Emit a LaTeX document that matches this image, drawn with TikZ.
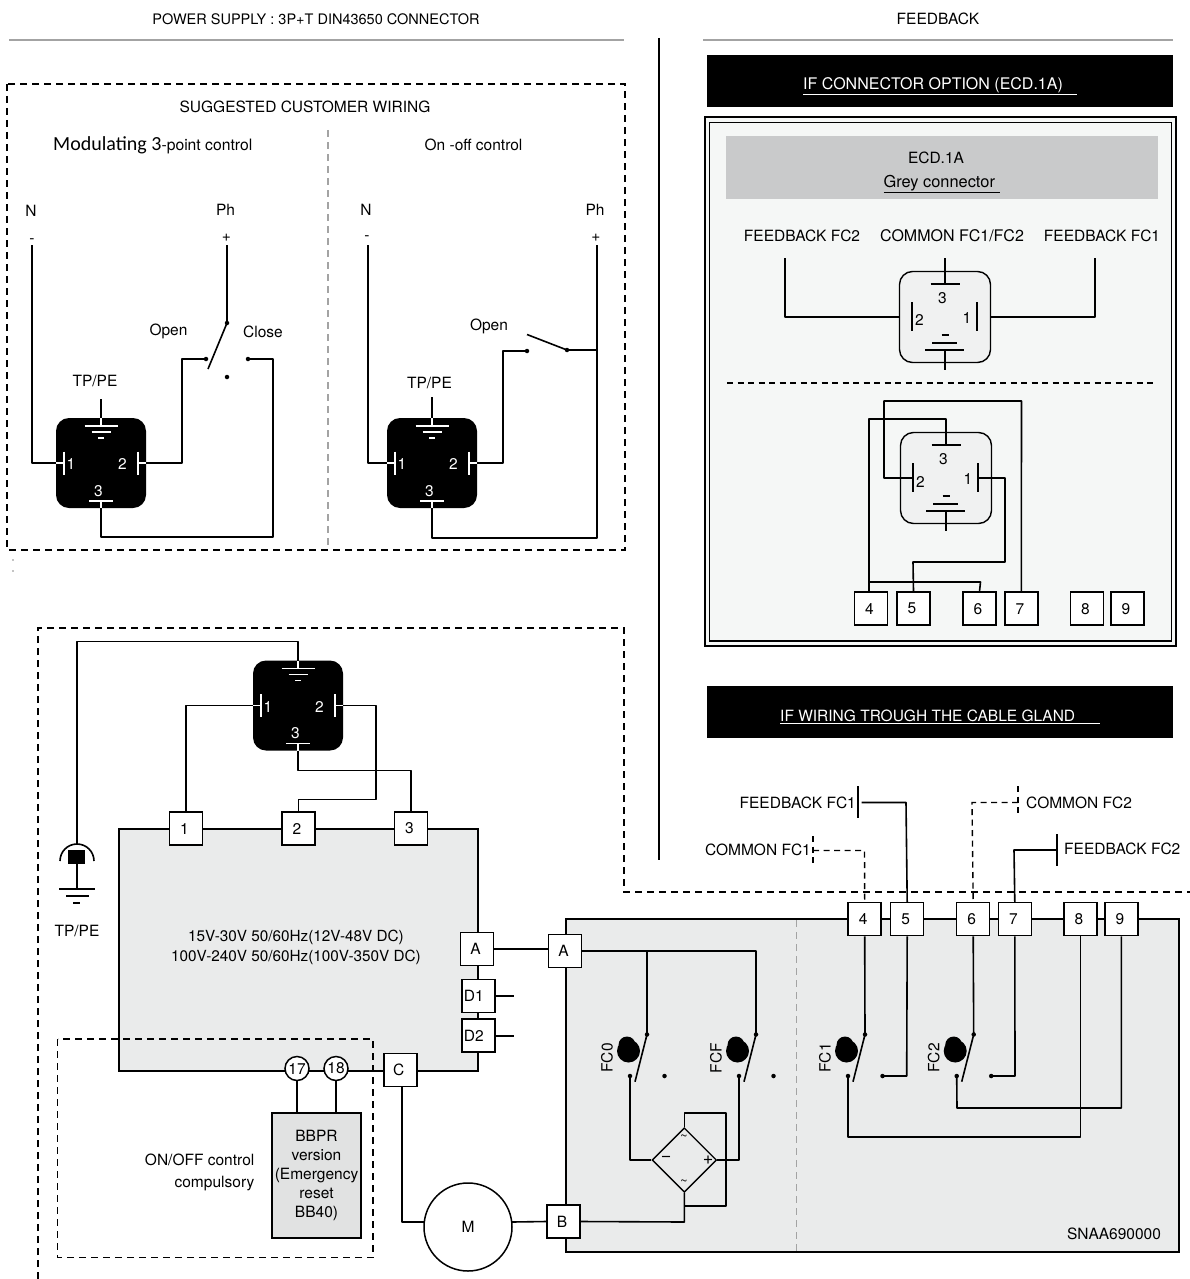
\documentclass[tikz,border=0pt]{standalone}
\usepackage{fontspec}
\setmainfont{TeX Gyre Heros}
\newfontfamily\calfont{Carlito}
\usetikzlibrary{shapes.geometric,calc}
\definecolor{panelgrey}{HTML}{EAEBEB}
\definecolor{rulegrey}{HTML}{A3A3A3}
\definecolor{headgrey}{HTML}{C9CACB}
\definecolor{paleframe}{HTML}{F5F7F6}
\definecolor{bbgrey}{HTML}{E1E2E2}
\tikzset{
 wire/.style={line width=1.6pt,line join=round},
 dashwire/.style={line width=1.4pt,dash pattern=on 6pt off 4.5pt},
 bound/.style={line width=1.5pt,dash pattern=on 7pt off 5pt},
 greydash/.style={rulegrey,line width=1.3pt,dash pattern=on 7pt off 5pt},
 panel/.style={draw,line width=2pt,fill=panelgrey},
 term/.style={draw,line width=1.5pt,fill=white,minimum width=33pt,minimum height=33pt,inner sep=0pt,font=\fsz,execute at end node={\kern3pt}},
 lab/.style={inner sep=0pt,font=\fsz},
 dotn/.style={circle,fill=black,inner sep=0pt,minimum size=4.5pt},
 conbox/.style={rounded corners=13pt,minimum width=90pt,minimum height=90pt,inner sep=0pt},
 circterm/.style={draw,circle,line width=1.5pt,fill=white,minimum size=24pt,inner sep=0pt,font=\fsz},
}
\newcommand\fsz{\fontsize{15.5}{18}\selectfont}
% black connector: name, cx, cy
\newcommand\blackcon[3]{%
 \begin{scope}[shift={(#2,#3)}]
  \node[conbox,fill=black] (#1) at (0,0) {};
  \coordinate (#1L) at (-45,0); \coordinate (#1R) at (45,0);
  \coordinate (#1B) at (0,45); \coordinate (#1T) at (0,-45);
  \begin{scope}[white,line width=1.4pt]
   \draw (0,-45) -- (0,-37) (-16.5,-37) -- (16.5,-37) (-9.5,-31) -- (9.5,-31) (-3,-25) -- (3,-25);
   \draw (-37,-11.5) -- (-37,11.5) (-45,0) -- (-37,0);
   \draw (37,-11.5) -- (37,11.5) (45,0) -- (37,0);
   \draw (-12,38) -- (12,38) (0,38) -- (0,45);
  \end{scope}
  \node[lab,white] (#1n1) at (-30,1.5) {1};
  \node[lab,white] (#1n2) at (21.5,1.5) {2};
  \node[lab,white] (#1n3) at (-2.5,28) {3};
 \end{scope}}
% light connector: name, cx, cy
\newcommand\lightcon[3]{%
 \begin{scope}[shift={(#2,#3)}]
  \node[conbox,draw,line width=1.4pt,fill=panelgrey!70!white,minimum width=91pt,minimum height=91pt] (#1) at (0,0) {};
  \coordinate (#1T) at (0,-33); \coordinate (#1L) at (-33,0);
  \coordinate (#1R) at (32,0); \coordinate (#1B) at (0,33);
  \begin{scope}[line width=1.4pt]
   \draw (-14.5,-33) -- (14.5,-33);
   \draw (-33,-15) -- (-33,14) (32,-15) -- (32,14);
   \draw (-3.5,18) -- (3.5,18) (-13,26) -- (12,26) (-20,33) -- (19,33) (0,33) -- (0,53);
  \end{scope}
  \node[lab] (#1n3) at (-2.5,-19) {3};
  \node[lab] (#1n2) at (-25.5,3.5) {2};
  \node[lab] (#1n1) at (22,1.5) {1};
 \end{scope}}
% cam switch: name, x of the upper contact
\newcommand\camswitch[3]{%
 \node[dotn] (#1t) at (#2,1034.5) {};
 \node[dotn] (#1a) at (#2-17,1076) {};
 \node[dotn] (#1b) at (#2+17.5,1076) {};
 \draw[wire] (#1t.center) -- (#2-12,1081.7);
 \fill (#2-18.5,1051) circle (11.5pt) (#2-20,1045) circle (8.5pt);
 \node[lab,rotate=90] (#1lab) at (#2-40,1058) {#3};}
\begin{document}
\begin{tikzpicture}[x=1pt,y=-1pt]
\useasboundingbox (0,0) rectangle (1190,1279);

% headings
\node[lab,font=\fontsize{14.5}{17}\selectfont] (hpower) at (316,19) {POWER SUPPLY : 3P+T DIN43650 CONNECTOR};
\node[lab] (hfeed) at (938,19) {FEEDBACK};
\draw[rulegrey,line width=2.6pt] (9,40) -- (624,40) (703,40) -- (1173,40);
\draw[line width=1.5pt] (659,38) -- (659,860);

% upper wiring box
\draw[bound] (7,84) rectangle (625,550);
\draw[greydash] (328,130) -- (328,548);
\fill (13,560) circle (.6pt) (13,571) circle (.6pt);
\node[lab] (hsugg) at (305,107) {SUGGESTED CUSTOMER WIRING};
\node[lab,anchor=west,font=\fontsize{15.7}{17}\selectfont] (hmod) at (53,145) {{\calfont\fontsize{20}{20}\selectfont Modulating 3}-point control};
\node[lab] (honoff) at (473.5,145) {On -off control};

% modulating connector
\blackcon{pa}{101}{463}
\node[lab] (nA) at (31,211) {N};
\node[lab] (mA) at (32,241) {-};
\node[lab] (pA) at (225.5,210) {Ph};
\node[lab] (plA) at (226.5,238) {+};
\node[lab] (tpA) at (95,381) {TP/PE};
\node[lab] (opA) at (168.5,331) {Open};
\node[lab] (clA) at (263,332) {Close};
\coordinate (nAe) at (32,245);
\coordinate (pAe) at (227,245);
\node[dotn] (swA) at (227,323) {};
\node[dotn] (swB) at (206,359) {};
\node[dotn] (swC) at (248,359) {};
\node[dotn] (swD) at (227,377) {};
\draw[wire] (nAe) |- (paL);
\draw[wire] (pAe) -- (swA.center) -- (208,369);
\draw[wire] (swB.center) -- (182,359) |- (paR);
\draw[wire] (swC.center) -- (273,359) -- (273,537) -| (paB);
\draw[wire] (paT) -- (101,399);

% on-off connector
\blackcon{pb}{432}{463}
\node[lab] (nB) at (366,210) {N};
\node[lab] (mB) at (367,238) {-};
\node[lab] (pB) at (595,210) {Ph};
\node[lab] (plB) at (596,238) {+};
\node[lab] (tpB) at (429.5,383) {TP/PE};
\node[lab] (opB) at (489,326) {Open};
\coordinate (nBe) at (368,245);
\coordinate (pBe) at (597,245);
\node[dotn] (sbA) at (567,350) {};
\node[dotn] (sbB) at (527,351) {};
\draw[wire] (nBe) |- (pbL);
\draw[wire] (pBe) -- (597,538) -| (pbB);
\draw[wire] (sbA.center) -- (597,350);
\draw[wire] (sbA.center) -- (527,334.5);
\draw[wire] (sbB.center) -- (503,351) |- (pbR);
\draw[wire] (pbT) -- (432,397);

% feedback panel
\fill[black] (707,55) rectangle (1173,107);
\node[lab,anchor=west,white,font=\fontsize{16}{18}\selectfont] (hcon) at (803,86) {\underline{IF CONNECTOR OPTION (ECD.1A)\hspace{14pt}}};
\draw[line width=2pt,fill=paleframe] (705,117.5) rectangle (1176,646);
\draw[line width=1.5pt] (709.5,122.5) rectangle (1171.5,641);
\fill[headgrey] (726,136) rectangle (1158,199);
\node[lab] (hecd) at (936,158) {ECD.1A};
\node[lab,font=\fontsize{16.4}{18}\selectfont] (hgrey) at (941.5,184) {\underline{Grey connector\ }};
\node[lab] (lf2) at (802,236) {FEEDBACK FC2};
\node[lab,font=\fontsize{16}{18}\selectfont] (lcom) at (952,236) {COMMON FC1/FC2};
\node[lab] (lf1) at (1102,236) {FEEDBACK FC1};
\lightcon{ca}{945}{317}
\coordinate (caW) at (785,258);
\coordinate (caE) at (1095,258);
\draw[wire] (caW) |- (ca.west);
\draw[wire] (caE) |- (ca.east);
\draw[wire] (945,258) -- (caT);
\draw[dashwire,line width=1.2pt] (727,383) -- (1157,383);

\lightcon{cb}{946}{478}
\node[term,minimum size=33pt] (k4) at (870.8,608.7) {4};
\node[term] (k5) at (913.5,608.7) {5};
\node[term] (k6) at (979.5,608.7) {6};
\node[term] (k7) at (1021.3,608.7) {7};
\node[term] (k8) at (1087,608.7) {8};
\node[term] (k9) at (1127.5,608.7) {9};
\draw[wire] (cbT) -- (946,419) -- (869,419) -- (869,592);
\draw[wire] (cbL) -- (884,478) -- (884,401) -- (1021.5,401) -- (k7.north);
\draw[wire] (cbR) -- (1005,478) -- (1005,562) -- (913,562) -- (k5.north);
\draw[wire] (869,582) -- (980.5,582) -- (k6.north);

\fill[black] (707,686) rectangle (1173,738);
\node[lab,anchor=west,white] (hgland) at (780,716.5) {\underline{IF WIRING TROUGH THE CABLE GLAND\hspace{25pt}}};

% actuator boundary
\draw[bound] (38,1279) -- (38,628) -- (624,628) -- (624,892) -- (1190,892);

% power unit
\draw[panel] (119,829) rectangle (478,1071);
\node[lab,align=center,font=\fontsize{15.3}{20}\selectfont] (tvolt) at (296,947) {15V-30V 50/60Hz(12V-48V DC)\\100V-240V 50/60Hz(100V-350V DC)};
\blackcon{pc}{298}{705.5}
\node[term] (u1) at (186,828.5) {1};
\node[term] (u2) at (298.5,828.5) {2};
\node[term] (u3) at (411,828.5) {3};
\draw[wire] (pcL) -| (u1.north);
\draw[wire] (pcR) -- (376,705.5) -- (376,799.5) -- (298.5,799.5) -- (u2.north);
\draw[wire] (pcB) -- (298,770.5) -- (411,770.5) -- (u3.north);
\draw[wire] (pcT) -- (298,641.5) -- (77,641.5) -- (77,844);
% earth symbol
\node[lab] (tpC) at (77,931) {TP/PE};
\draw[wire] (60,861) arc[start angle=180,end angle=0,radius=17pt];
\fill (68,850) rectangle (85,864);
\draw[wire] (77,864) -- (77,889) (59,889) -- (95,889) (66,896) -- (89,896) (73,903) -- (80,903);

\node[term] (ta) at (477,949) {A};
\node[term,execute at end node={\kern6pt}] (td1) at (478.3,996) {D1};
\node[term,execute at end node={\kern6pt}] (td2) at (478.3,1035.7) {D2};
\node[term] (tc) at (400.3,1070) {C};
\node[circterm] (c17) at (297,1068.5) {17};
\node[circterm] (c18) at (336,1068.5) {18};
\coordinate (d1e) at (514,996);
\coordinate (d2e) at (514,1035.7);
\draw[wire] (td1.east) -- (d1e);
\draw[wire] (td2.east) -- (d2e);

\node[draw,line width=2pt,fill=bbgrey,minimum width=89pt,minimum height=125pt,inner sep=0pt,align=center,font=\fontsize{15.5}{19}\selectfont] (bb) at (316.5,1175.5) {BBPR\\version\\(Emergency\\reset\\BB40)};
\draw[wire] (c17.south) -- (297,1113);
\draw[wire] (c18.south) -- (336,1113);
\draw[bound,line width=1.4pt] (57.5,1039) rectangle (373,1257.5);
\node[lab,align=right,font=\fontsize{15.5}{22}\selectfont,anchor=east] (ton) at (254.5,1172) {ON/OFF control\\compulsory};

% motor
\node[draw,circle,line width=1.5pt,fill=white,minimum size=88pt,inner sep=0pt,font=\fsz] (mot) at (468,1227) {M};
\draw[wire] (tc.south) ++(1.7,0) -- (402,1222) -- (424,1222);

% switch unit
\draw[panel] (565.7,919) rectangle (1179,1251.7);
\draw[greydash] (796.7,920) -- (796.7,1251);
\node[term] (ra) at (565,951) {A};
\node[term] (rb) at (563.5,1221.5) {B};
\draw[wire] (ta.east) -- (548,949);
\draw[wire] (mot) ++(44,-5) -- (rb.west);
\camswitch{fc0}{647}{FC0}
\camswitch{fcf}{756}{FCF}
\camswitch{fc1}{865}{FC1}
\camswitch{fc2}{973.7}{FC2}
\draw[wire] (ra.east) -- (756,951) -- (fcft.center);
\draw[wire] (647,951) -- (fc0t.center);

% bridge
\node[draw,diamond,line width=1.4pt,minimum size=64.5pt,inner sep=0pt] (br) at (684.3,1160) {};
\node[lab] (brp) at (708,1160) {\fontsize{18}{18}\selectfont +};
\node[lab] (brm) at (666,1159) {\fontsize{18}{18}\selectfont −};
\node[lab] (bra) at (684,1138) {\fontsize{13}{13}\selectfont \textasciitilde};
\node[lab] (brb) at (684,1183) {\fontsize{13}{13}\selectfont \textasciitilde};
\draw[wire] (br.west) -| (fc0a.center);
\draw[wire] (br.east) -| (fcfa.center);
\draw[wire] (br.north) -- (684.3,1113) -- (726,1113) -- (726,1205.7) -- (684.3,1205.7);
\draw[wire] (br.south) -- (684.3,1222) -- (rb.east);

% feedback terminals
\node[term] (f4) at (864.7,919) {4};
\node[term] (f5) at (907.2,919) {5};
\node[term] (f6) at (973.2,919) {6};
\node[term] (f7) at (1014.8,919) {7};
\node[term] (f8) at (1080.5,919) {8};
\node[term] (f9) at (1121.3,919) {9};
\draw[wire] (f4.south) -- (fc1t.center);
\draw[wire] (f5.south) -- (906.7,1076) -- (fc1b.center);
\draw[wire] (f6.south) -- (fc2t.center);
\draw[wire] (f7.south) -- (1015,1076) -- (fc2b.center);
\draw[wire] (fc1a.center) -- (848,1136.7) -- (1080.5,1136.7) -- (f8.south);
\draw[wire] (fc2a.center) -- (957,1108) -- (1121.3,1108) -- (f9.south);
\node[lab] (tsn) at (1114,1234) {SNAA690000};

% gland cables
\node[lab,anchor=east] (g1) at (856,803) {FEEDBACK FC1};
\node[lab,anchor=east] (g2) at (811,850) {COMMON FC1};
\node[lab,anchor=west] (g3) at (1026,803) {COMMON FC2};
\node[lab,anchor=west] (g4) at (1064,849) {FEEDBACK FC2};
\coordinate (g1e) at (858,802.5);
\coordinate (g2e) at (813,850.5);
\coordinate (g3e) at (1018,802.5);
\coordinate (g4e) at (1057,850);
\draw[wire] (858,786) -- (858,818);
\draw[wire] (1057,834) -- (1057,865.5);
\draw[dashwire] (813,836) -- (813,867);
\draw[dashwire] (1018,786) -- (1018,817);
\draw[wire] (861.5,802.5) -- (906,802.5) -- (f5.north);
\draw[wire] (g4e) -- (1014,850) -- (f7.north);
\draw[dashwire] (g2e) -- (864.5,850.5) -- (f4.north);
\draw[dashwire] (g3e) -- (972,802.5) -- (f6.north);
\end{tikzpicture}
\end{document}
